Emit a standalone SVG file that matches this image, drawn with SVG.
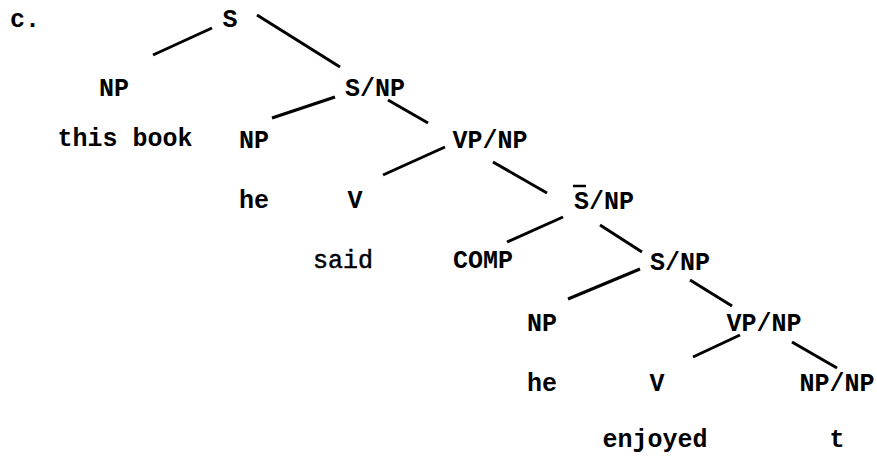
<svg xmlns="http://www.w3.org/2000/svg" width="877" height="457" viewBox="0 0 877 457">
<style>
text{font-family:"Liberation Mono","Courier New",monospace;font-size:25px;font-weight:bold;fill:#000;text-anchor:middle}
.lt{font-weight:normal;stroke:#000;stroke-width:0.5}
.st{text-anchor:start}
#edges line{stroke:#000;stroke-width:3;stroke-linecap:butt}
</style>
<rect width="877" height="457" fill="#fff"/>
<text class="st" x="10" y="27">c.</text>
<g id="edges">
<line x1="212" y1="28" x2="153" y2="55"/>
<line x1="257" y1="15" x2="340" y2="67"/>
<line x1="335" y1="97" x2="272" y2="118"/>
<line x1="388" y1="100" x2="428" y2="123"/>
<line x1="445" y1="147" x2="383" y2="175"/>
<line x1="493" y1="162" x2="547" y2="193"/>
<line x1="563" y1="217" x2="507" y2="242"/>
<line x1="600" y1="225" x2="642" y2="252"/>
<line x1="640" y1="269" x2="568" y2="299"/>
<line x1="690" y1="280" x2="732" y2="306"/>
<line x1="740" y1="335" x2="693" y2="357"/>
<line x1="792" y1="342" x2="837" y2="368"/>
</g>
<g id="n-S"><text x="230" y="27">S</text></g>
<g id="n-NP1"><text x="114" y="96">NP</text></g>
<g id="n-SNP1"><text x="375" y="96">S/NP</text></g>
<g id="n-thisbook"><text x="125" y="146">this book</text></g>
<g id="n-NP2"><text x="254" y="148">NP</text></g>
<g id="n-VPNP1"><text x="490" y="148">VP/NP</text></g>
<g id="n-he1"><text x="254" y="208">he</text></g>
<g id="n-V1"><text x="355" y="208">V</text></g>
<g id="n-SbarNP"><text x="604" y="209">S/NP</text><line x1="573" y1="186" x2="586" y2="186" stroke="#000" stroke-width="2.5"/></g>
<g id="n-said"><text class="lt" x="343" y="268">said</text></g>
<g id="n-COMP"><text x="483" y="268">COMP</text></g>
<g id="n-SNP2"><text x="680" y="270">S/NP</text></g>
<g id="n-NP3"><text x="542" y="331">NP</text></g>
<g id="n-VPNP2"><text x="764" y="331">VP/NP</text></g>
<g id="n-he2"><text x="542" y="391">he</text></g>
<g id="n-V2"><text x="657" y="391">V</text></g>
<g id="n-NPNP"><text x="837" y="391">NP/NP</text></g>
<g id="n-enjoyed"><text x="655" y="447">enjoyed</text></g>
<g id="n-t"><text x="837" y="447">t</text></g>
</svg>
